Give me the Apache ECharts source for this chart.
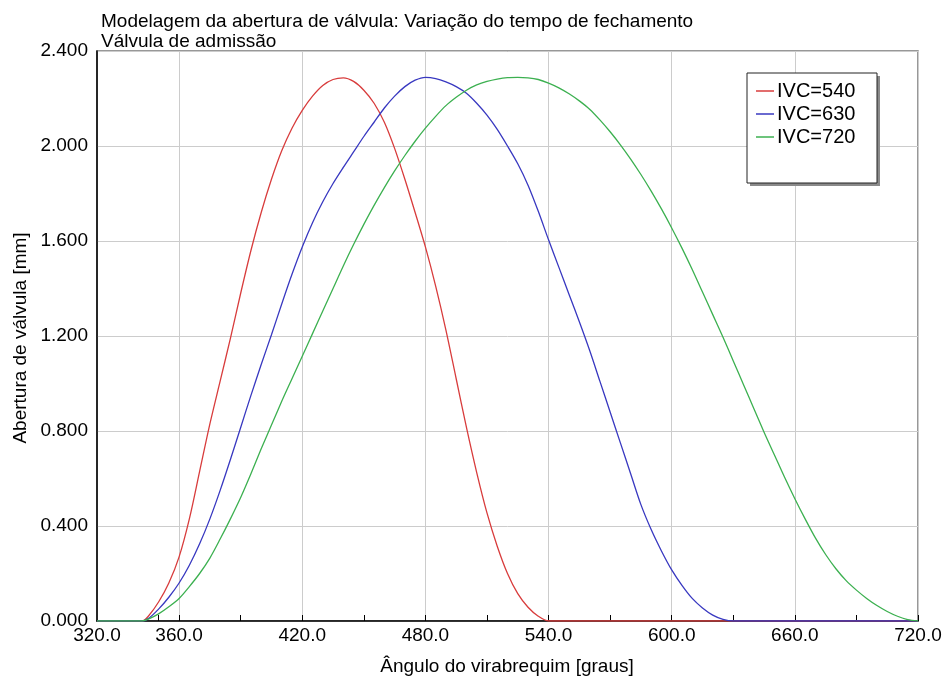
<!DOCTYPE html>
<html>
<head>
<meta charset="utf-8">
<script src="https://cdn.jsdelivr.net/npm/echarts@6/dist/echarts.min.js"></script>
<style>
html,body{margin:0;padding:0;background:#fff;}
#chart{width:946px;height:684px;}
</style>
</head>
<body>
<div id="chart"></div>
<script>
var angles = [320,340,342,345,350,355,360,365,370,375,380,385,390,395,400,405,410,415,420,425,430,435,440,445,450,455,460,465,470,475,480,485,490,495,500,505,510,515,520,525,530,535,540,545,550,555,560,565,570,575,580,585,590,595,600,605,610,615,620,625,630,635,640,645,650,655,660,665,670,675,680,685,690,695,700,705,710,715,720];

var ivc540 = [0,0,0,0.02,0.08,0.16,0.27,0.43,0.63,0.83,1.01,1.19,1.38,1.56,1.72,1.86,1.98,2.075,2.15,2.21,2.255,2.28,2.287,2.272,2.235,2.18,2.10,1.99,1.86,1.72,1.575,1.41,1.225,1.02,0.815,0.625,0.455,0.315,0.20,0.115,0.058,0.02,0,0,0,0,0,0,0,0,0,0,0,0,0,0,0,0,0,0,0,0,0,0,0,0,0,0,0,0,0,0,0,0,0,0,0,0,0];

var ivc630 = [0,0,0,0.01,0.05,0.10,0.16,0.235,0.325,0.43,0.55,0.68,0.815,0.95,1.08,1.205,1.335,1.46,1.575,1.677,1.765,1.842,1.91,1.975,2.04,2.10,2.16,2.21,2.25,2.277,2.289,2.284,2.27,2.25,2.222,2.18,2.13,2.07,2.00,1.925,1.835,1.725,1.605,1.49,1.375,1.26,1.14,1.01,0.88,0.75,0.62,0.49,0.385,0.295,0.215,0.15,0.095,0.055,0.025,0.007,0,0,0,0,0,0,0,0,0,0,0,0,0,0,0,0,0,0,0];

var ivc720 = [0,0,0,0.008,0.03,0.06,0.095,0.145,0.20,0.265,0.345,0.43,0.52,0.62,0.725,0.825,0.925,1.02,1.115,1.21,1.305,1.40,1.495,1.585,1.67,1.75,1.825,1.895,1.96,2.02,2.075,2.125,2.17,2.205,2.235,2.257,2.272,2.282,2.288,2.289,2.287,2.28,2.265,2.245,2.22,2.19,2.155,2.11,2.06,2.005,1.945,1.88,1.81,1.735,1.655,1.57,1.48,1.385,1.29,1.195,1.095,0.995,0.895,0.795,0.70,0.605,0.515,0.43,0.35,0.28,0.22,0.17,0.13,0.095,0.065,0.04,0.02,0.006,0];

var seriesNames = ['IVC=540','IVC=630','IVC=720'];
var xLabelValues = [320,360,420,480,540,600,660,720];
var xMajorTicks = [360,420,480,540,600,660,720];
var xMinorTicks = [350,390,450,510,570,630,690];

function pairs(ys){ return angles.map(function(a,i){ return [a, ys[i]]; }); }

var chart = echarts.init(document.getElementById('chart'), null, {renderer:'canvas'});
var font = 'Liberation Sans, Arial, sans-serif';
var colors = ['#d83c3c','#3838c0','#3cb050'];

chart.setOption({
  animation:false,
  backgroundColor:'#fff',
  textStyle:{fontFamily:font},
  title:{
    text:'Modelagem da abertura de válvula: Variação do tempo de fechamento\nVálvula de admissão',
    left:96, top:7,
    textStyle:{fontFamily:font,fontSize:19,fontWeight:'normal',color:'#000',lineHeight:20}
  },
  legend:{
    orient:'vertical', left:751, top:76,
    itemWidth:18, itemHeight:1.5, itemGap:3,
    icon:'rect',
    data:seriesNames,
    textStyle:{fontFamily:font,fontSize:20,color:'#000',padding:[0,0,0,-2],lineHeight:20}
  },
  grid:{left:97,right:28,top:51,bottom:63,show:true,borderColor:'#777',borderWidth:1.5,backgroundColor:'transparent'},
  xAxis:[{
    type:'value', min:320, max:720,
    axisLine:{show:true,onZero:false,lineStyle:{color:'#000',width:1.5}},
    axisTick:{show:true,inside:true,length:6,customValues:xMajorTicks,lineStyle:{color:'#000'}},
    axisLabel:{customValues:xLabelValues,fontFamily:font,fontSize:19,color:'#000',margin:5,
      formatter:function(v){return v.toFixed(1);}},
    splitLine:{show:true,lineStyle:{color:'#cccccc',width:1}}
  },{
    type:'value', min:320, max:720, position:'bottom',
    axisLine:{show:false},
    axisTick:{show:true,inside:true,length:6,customValues:xMinorTicks,lineStyle:{color:'#000'}},
    axisLabel:{show:false},
    splitLine:{show:false}
  }],
  yAxis:{
    type:'value', min:0, max:2.4, interval:0.4,
    axisLine:{show:true,lineStyle:{color:'#000',width:1.5}},
    axisTick:{show:false},
    axisLabel:{fontFamily:font,fontSize:19,color:'#000',margin:9,
      formatter:function(v){return v.toFixed(3);}},
    splitLine:{show:true,lineStyle:{color:'#cccccc',width:1}}
  },
  graphic:[
    {type:'rect',shape:{x:750,y:76,width:130,height:110},style:{fill:'#8a8a8a'},z:1},
    {type:'rect',shape:{x:747,y:73,width:130,height:110},style:{fill:'#fff',stroke:'#222',lineWidth:1},z:2},
    {type:'text',x:507,y:667,style:{text:'Ângulo do virabrequim [graus]',font:'19px '+font,fill:'#000',textAlign:'center',textVerticalAlign:'middle'}},
    {type:'text',x:21,y:338,rotation:Math.PI/2,style:{text:'Abertura de válvula [mm]',font:'19px '+font,fill:'#000',textAlign:'center',textVerticalAlign:'middle'}}
  ],
  series:[0,1,2].map(function(i){
    var d = [ivc540,ivc630,ivc720][i];
    return {
      name:seriesNames[i], type:'line', data:pairs(d), smooth:0.3, showSymbol:false,
      lineStyle:{color:colors[i],width:1.3}, itemStyle:{color:colors[i]}, z:3+i
    };
  })
});
</script>
</body>
</html>
